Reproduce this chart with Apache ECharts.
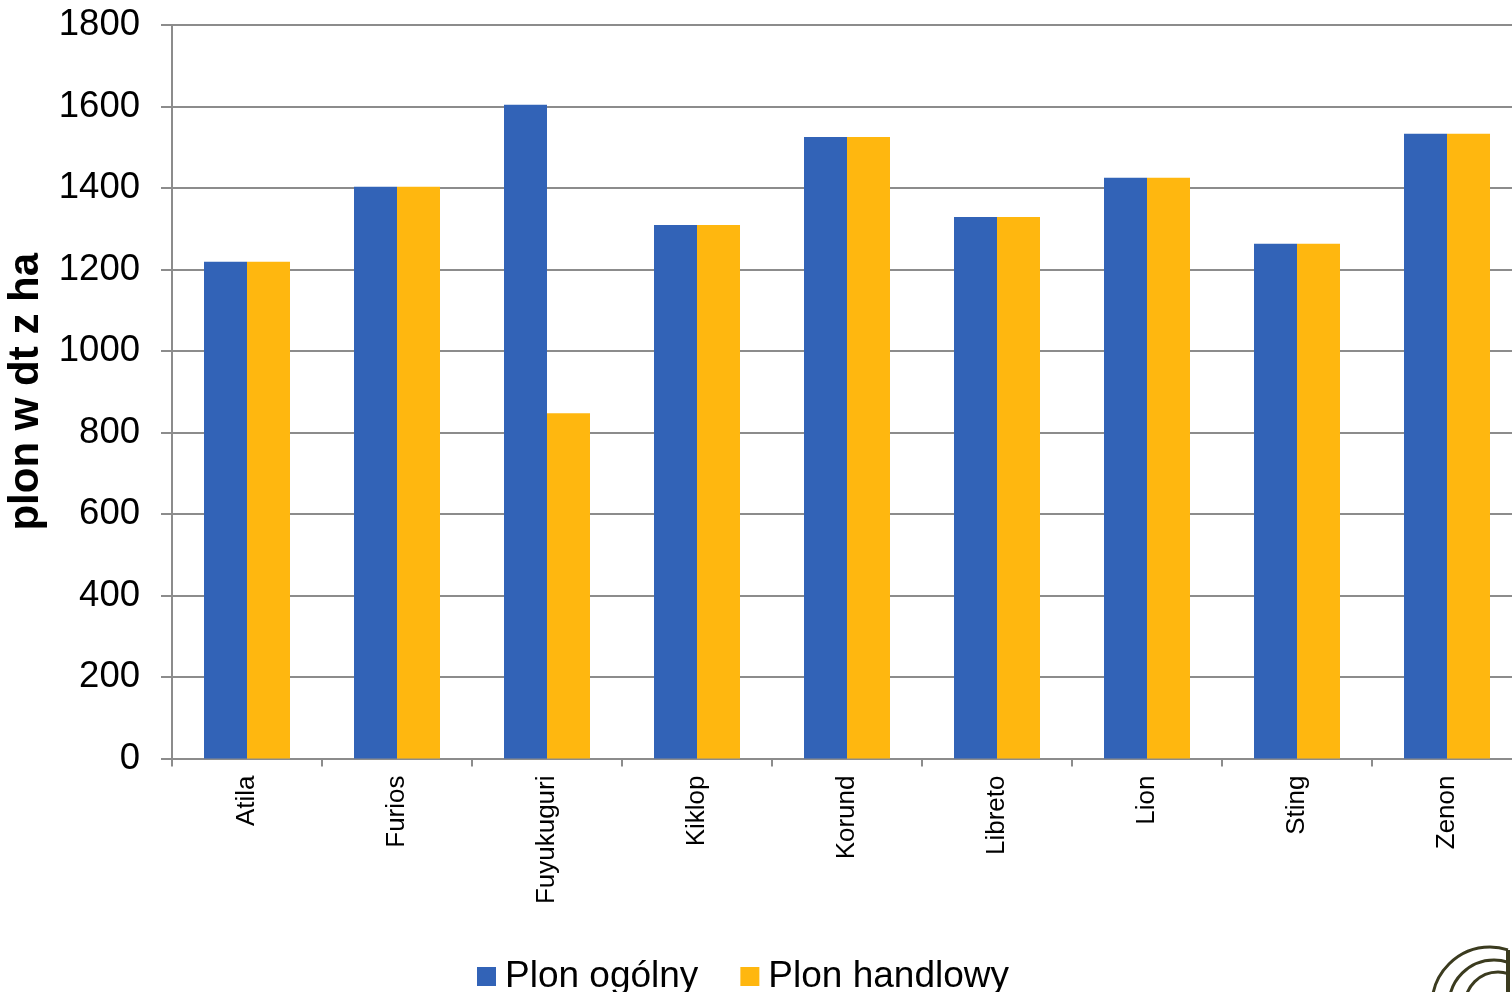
<!DOCTYPE html>
<html>
<head>
<meta charset="utf-8">
<script src="https://cdn.jsdelivr.net/npm/echarts@6/dist/echarts.min.js"></script>
<style>html,body{margin:0;padding:0;background:#fff;}#c{width:1512px;height:992px;}</style>
</head>
<body>
<div id="c"></div>
<script>
const categories = ['Atila','Furios','Fuyukuguri','Kiklop','Korund','Libreto','Lion','Sting','Zenon'];
const plonOgolny = [1219,1403,1604,1309,1525,1329,1425,1263,1533];
const plonHandlowy = [1219,1403,847,1309,1525,1329,1425,1263,1533];
const seriesNames = ['Plon ogólny','Plon handlowy'];
const yAxisName = 'plon w dt z ha';

const FONT = '"Liberation Sans", Arial, sans-serif';
const chart = echarts.init(document.getElementById('c'));
chart.setOption({
  animation: false,
  backgroundColor: '#ffffff',
  textStyle: { fontFamily: FONT },
  grid: { left: 172, top: 25, right: -10, bottom: 233.5, containLabel: false, outerBoundsMode: 'none' },
  legend: {
    data: seriesNames,
    left: 472, top: 953,
    icon: 'rect', itemWidth: 19, itemHeight: 19, itemGap: 42,
    textStyle: { fontSize: 37, color: '#000', fontFamily: FONT, padding: [0,0,0,4] }
  },
  xAxis: {
    type: 'category',
    data: categories,
    axisLine: { lineStyle: { color: '#8c8c8c', width: 2 } },
    axisTick: { show: true, length: 8, lineStyle: { color: '#8c8c8c', width: 2 } },
    axisLabel: { rotate: 90, fontSize: 26, color: '#000', margin: 17, fontFamily: FONT, padding: [0,0,0,0] }
  },
  yAxis: {
    type: 'value', min: 0, max: 1800, interval: 200,
    name: yAxisName, nameLocation: 'middle', nameGap: 122,
    nameTextStyle: { fontSize: 42, fontWeight: 'bold', color: '#000', fontFamily: FONT },
    axisLine: { show: true, lineStyle: { color: '#8c8c8c', width: 2 } },
    axisTick: { show: true, length: 11, lineStyle: { color: '#8c8c8c', width: 2 } },
    axisLabel: { fontSize: 36.5, color: '#000', margin: 32, fontFamily: FONT,
      formatter: function (v) { return String(v); } },
    splitLine: { lineStyle: { color: '#8c8c8c', width: 2 } }
  },
  series: [
    { name: seriesNames[0], type: 'bar', data: plonOgolny, barWidth: 43, barGap: '0%',
      itemStyle: { color: '#3263B7' } },
    { name: seriesNames[1], type: 'bar', data: plonHandlowy, barWidth: 43, barGap: '0%',
      itemStyle: { color: '#FFB70F' } }
  ],
  graphic: [
    { type: 'arc', shape: { cx: 1490, cy: 1005, r: 58, startAngle: Math.PI, endAngle: Math.PI*1.6 },
      style: { stroke: '#3b3b1f', lineWidth: 3, fill: null } },
    { type: 'arc', shape: { cx: 1494, cy: 1005, r: 45, startAngle: Math.PI, endAngle: Math.PI*1.6 },
      style: { stroke: '#3b3b1f', lineWidth: 3, fill: null } },
    { type: 'arc', shape: { cx: 1498, cy: 1005, r: 33, startAngle: Math.PI, endAngle: Math.PI*1.6 },
      style: { stroke: '#3b3b1f', lineWidth: 3, fill: null } },
    { type: 'rect', shape: { x: 1506, y: 950, width: 4, height: 42 }, style: { fill: '#3b3b1f' } }
  ]
});
</script>
</body>
</html>
